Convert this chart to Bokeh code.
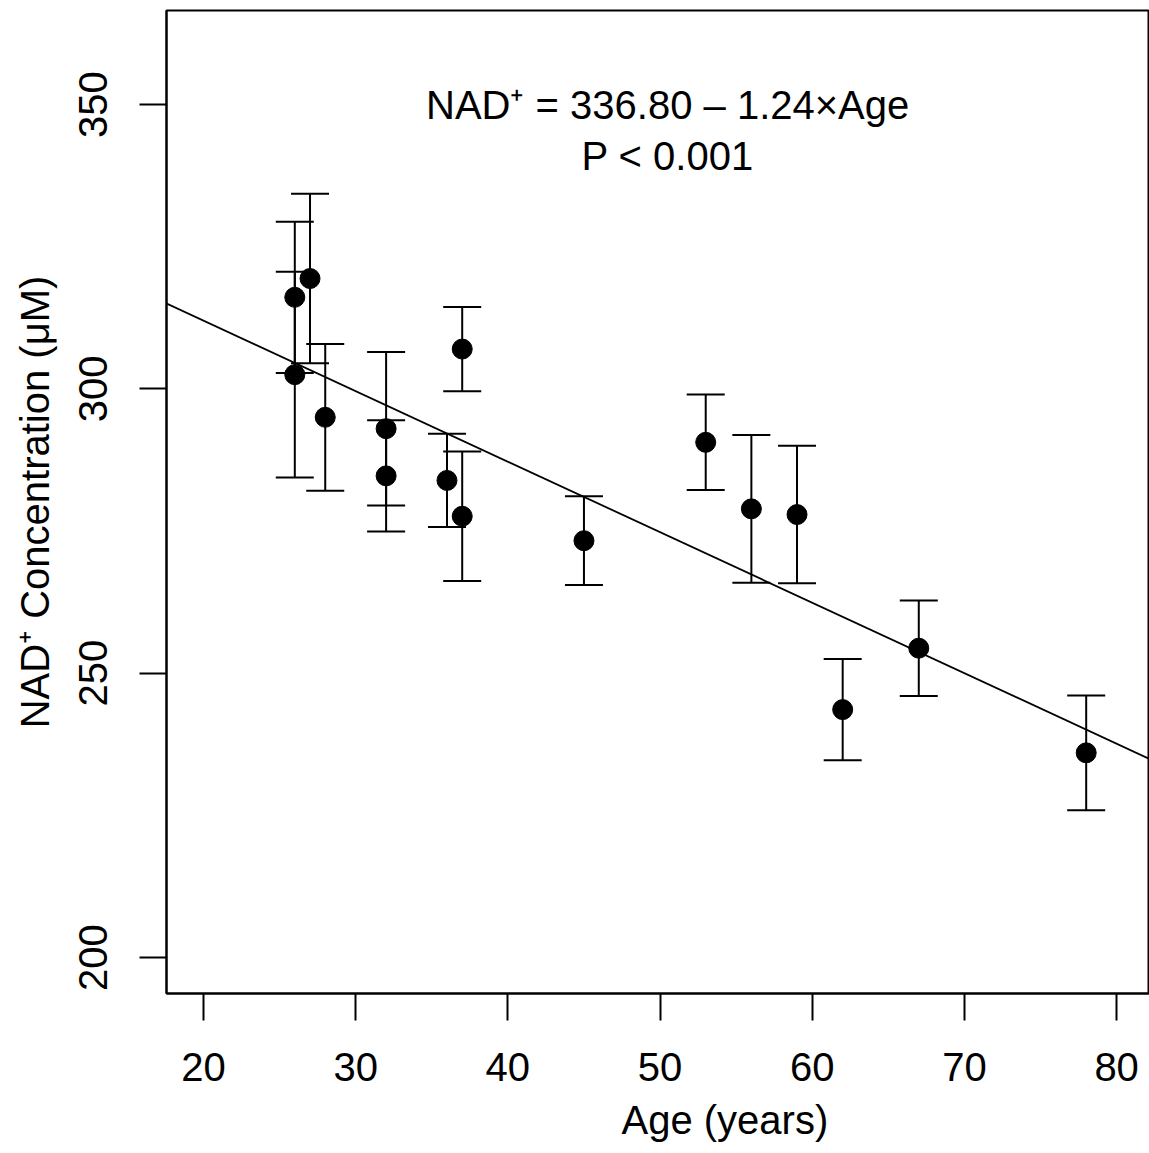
from bokeh.plotting import figure
from bokeh.models import Range1d, Whisker, TeeHead, ColumnDataSource, Slope, Label, FixedTicker, Title
from bokeh.embed import file_html
from bokeh.resources import INLINE

# ---- data ----
ages = [26, 26, 27, 28, 32, 32, 36, 37, 37, 45, 53, 56, 59, 62, 67, 78]
nad = [316.1, 302.5, 319.4, 295.0, 293.0, 284.7, 283.9, 307.0, 277.6,
       273.3, 290.6, 278.9, 277.9, 243.6, 254.4, 236.0]
err = [13.3, 18.1, 14.9, 12.9, 13.5, 9.8, 8.2, 7.4, 11.4,
       7.8, 8.4, 13.0, 12.1, 8.9, 8.4, 10.1]
intercept = 336.80
slope = -1.24
x_ticks = [20, 30, 40, 50, 60, 70, 80]
y_ticks = [200, 250, 300, 350]
eq_text = "NAD\u207a = 336.80 \u2013 1.24\u00d7Age"
p_text = "P < 0.001"
x_title = "Age (years)"
y_title = "NAD\u207a Concentration (\u03bcM)"

FONT = "Liberation Sans"

src = ColumnDataSource(dict(
    x=ages, y=nad,
    lo=[v - e for v, e in zip(nad, err)],
    hi=[v + e for v, e in zip(nad, err)],
))

p = figure(width=1149, height=1153, output_backend="svg", toolbar_location=None,
           x_range=Range1d(17.57, 82.16), y_range=Range1d(193.68, 366.53),
           min_border_left=166, min_border_right=0, min_border_top=10, min_border_bottom=160)
p.background_fill_color = "white"
p.border_fill_color = "white"
p.outline_line_color = "black"
p.outline_line_width = 2
p.xgrid.visible = False
p.ygrid.visible = False

# regression line
p.add_layout(Slope(gradient=slope, y_intercept=intercept, line_color="black", line_width=1.8))

# error bars
w = Whisker(base="x", upper="hi", lower="lo", source=src, dimension="height",
            line_color="black", line_width=2,
            upper_head=TeeHead(size=38, line_color="black", line_width=2),
            lower_head=TeeHead(size=38, line_color="black", line_width=2))
p.add_layout(w)

p.scatter("x", "y", source=src, size=20, fill_color="black", line_color="black")

# annotation
p.add_layout(Label(x=50.5, y=350.0, text=eq_text, text_align="center", text_baseline="middle",
                   text_font=FONT, text_font_size="40px", text_color="black"))
p.add_layout(Label(x=50.5, y=341.0, text=p_text, text_align="center", text_baseline="middle",
                   text_font=FONT, text_font_size="40px", text_color="black"))

# axes
for ax in (p.xaxis[0], p.yaxis[0]):
    ax.axis_line_color = "black"
    ax.axis_line_width = 2
    ax.major_tick_line_color = "black"
    ax.major_tick_line_width = 2
    ax.major_tick_in = 0
    ax.major_tick_out = 27
    ax.minor_tick_line_color = None
    ax.major_label_text_font = FONT
    ax.major_label_text_font_size = "40px"
    ax.major_label_text_color = "black"
    ax.axis_label_text_font = FONT
    ax.axis_label_text_font_size = "40px"
    ax.axis_label_text_font_style = "normal"
    ax.axis_label_text_color = "black"

p.xaxis.ticker = FixedTicker(ticks=x_ticks)
p.yaxis.ticker = FixedTicker(ticks=y_ticks)
p.yaxis.axis_label = y_title
p.xaxis.major_label_standoff = 32
p.yaxis.major_label_orientation = "vertical"
p.yaxis.major_label_standoff = 32
p.yaxis.axis_label_standoff = 20

# x-axis title: the original panel is cropped on the right, so its title sits right of frame centre
p.add_layout(Title(text=x_title, align="left", offset=455, standoff=24,
                   text_font=FONT, text_font_size="40px", text_font_style="normal",
                   text_color="black"), "below")

open("out.html", "w").write(file_html(p, INLINE))
